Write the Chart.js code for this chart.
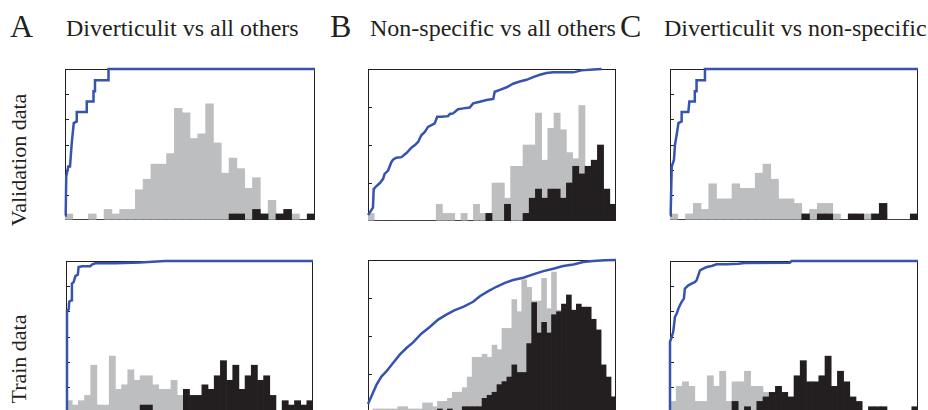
<!DOCTYPE html>
<html>
<head>
<meta charset="utf-8">
<script src="https://cdn.jsdelivr.net/npm/chart.js@4.4.1/dist/chart.umd.min.js"></script>
<style>
  html, body { margin: 0; padding: 0; background: #fff; overflow: hidden; }
  body { width: 928px; height: 410px; position: relative; font-family: "Liberation Serif", "Times New Roman", serif; color: #231f20; }
  .lbl { position: absolute; white-space: nowrap; line-height: 1; }
  .letter { font-size: 32px; }
  .title { font-size: 24px; }
  .ylab { font-size: 22px; width: 200px; text-align: center; transform: rotate(-90deg); }
  canvas { position: absolute; }
</style>
</head>
<body>
<div class="lbl letter" style="left:10px;top:10px">A</div>
<div class="lbl title" style="left:66px;top:16px">Diverticulit vs all others</div>
<div class="lbl letter" style="left:330px;top:10px">B</div>
<div class="lbl title" style="left:370px;top:16px">Non-specific vs all others</div>
<div class="lbl letter" style="left:620px;top:10px">C</div>
<div class="lbl title" style="left:664px;top:16px">Diverticulit vs non-specific</div>
<div class="lbl ylab" style="left:-81px;top:149px">Validation data</div>
<div class="lbl ylab" style="left:-81px;top:348px">Train data</div>
<script>
// histogram heights, % of panel height
const aValGray = [4,0,0,4,0,7,4,7,7,20,27,37,37,44,74,71,54,57,77,51,31,41,34,21,28,4,13,4,7,4,0,0];
const aValBlack = [0,0,0,0,0,0,0,0,0,0,0,0,0,0,0,0,0,0,0,0,0,4,4,0,7,4,0,4,7,0,0,4];
const bValGray = [5,0,0,0,0,0,0,0,0,0,0,11,5,5,0,5,0,11,5,5,25,25,15,36,36,50,50,71,40,61,71,60,45,41,76,36,40,21,15,11];
const bValBlack = [0,0,0,0,0,0,0,0,0,0,0,0,0,0,0,0,0,0,0,5,0,0,11,0,0,5,15,21,15,21,21,15,25,36,31,36,40,50,21,11];
const cValGray = [4,0,4,11,7,24,14,14,24,21,21,31,37,27,14,14,11,4,7,11,11,4,0,4,0,4,4,4,0,0,0,0];
const cValBlack = [0,0,0,0,0,0,0,0,0,0,0,0,0,0,0,0,0,4,0,4,4,0,0,4,4,0,4,11,0,0,0,4];

const aTrGray = [7.5,4.6,7.5,11,31,4.6,4.6,37,15,18,28,21,24,24,18,15,15,21,11,4.6,0,0,0,0,0,0,0,0,0,0,0,0,0,0,0,0,0,0,0,0];
const aTrBlack = [0,0,0,0,0,0,0,0,0,0,0,0,4.6,4.6,0,0,0,0,0,15,11,11,18,15,24,34,21,31,15,24,31,21,24,11,0,7.5,4.6,7.5,4.6,7.5];
const bTrGray = [0,2,2,2,2,2,3.5,3.5,2,2,2,6,6,3.5,7,7,9,13,13,16,23,36,36,38,36,44,41,55,55,74,66,87,82,73,73,88,68,92,67,40,30,25,20,15,10,8,5,3,2,0];
const bTrBlack = [0,0,0,0,0,0,0,0,0,0,0,0,0,0,2,0,2,0,0,3.5,3.5,3.5,3.5,9,11,13,18,20,23,31,26,26,45,72,52,59,52,64,66,71,77,67,71,69,69,61,54,31,23,10];
const cTrGray = [7,17,20,17,7,7,24,17,27,7,20,20,27,17,17,13,7,0,0,0,0,0,0,0,0,0,0,0,0,0,0,0,0,0,0,0,0,0,0,0];
const cTrBlack = [0,0,0,0,0,0,0,0,0,0,7,0,3.5,0,7,10,13,17,13,10,24,34,20,20,24,37,17,27,20,10,7,0,3.5,3.5,3.5,0,0,0,0,3.5];

// blue curves, [fraction x, fraction y]
const rocAVal = [[0,0.03],[0.003,0.066],[0.005,0.288],[0.013,0.354],[0.02,0.354],[0.027,0.509],[0.035,0.642],[0.047,0.653],[0.047,0.715],[0.087,0.715],[0.087,0.785],[0.114,0.785],[0.114,0.852],[0.12,0.852],[0.12,0.925],[0.174,0.925],[0.174,1],[1,1]];
const rocBVal = [[0,0.04],[0.007,0.055],[0.02,0.088],[0.023,0.21],[0.034,0.23],[0.047,0.248],[0.061,0.277],[0.067,0.31],[0.081,0.332],[0.094,0.387],[0.101,0.403],[0.114,0.416],[0.135,0.42],[0.155,0.447],[0.175,0.482],[0.188,0.498],[0.202,0.52],[0.215,0.564],[0.229,0.586],[0.242,0.619],[0.256,0.631],[0.269,0.642],[0.279,0.686],[0.296,0.686],[0.323,0.69],[0.33,0.704],[0.343,0.708],[0.363,0.735],[0.384,0.741],[0.41,0.746],[0.424,0.774],[0.451,0.785],[0.478,0.796],[0.505,0.803],[0.511,0.85],[0.532,0.863],[0.559,0.88],[0.585,0.903],[0.612,0.918],[0.639,0.929],[0.666,0.947],[0.693,0.962],[0.72,0.973],[0.747,0.978],[0.828,0.978],[0.861,0.991],[0.908,0.996],[0.942,1]];
const rocCVal = [[0,0.03],[0.003,0.066],[0.007,0.354],[0.016,0.398],[0.02,0.498],[0.027,0.564],[0.034,0.642],[0.047,0.653],[0.047,0.715],[0.074,0.715],[0.078,0.785],[0.1,0.785],[0.1,0.852],[0.107,0.852],[0.107,0.925],[0.141,0.925],[0.141,1],[1,1]];
const rocATr = [[0,0],[0.004,0.21],[0.004,0.67],[0.011,0.68],[0.013,0.73],[0.022,0.74],[0.024,0.85],[0.031,0.86],[0.038,0.9],[0.048,0.91],[0.051,0.96],[0.065,0.965],[0.098,0.965],[0.105,0.976],[0.118,0.985],[0.199,0.985],[0.3,0.99],[0.401,1],[1,1]];
const rocBTr = [[0,0.053],[0.013,0.101],[0.034,0.178],[0.054,0.233],[0.074,0.267],[0.101,0.322],[0.128,0.377],[0.155,0.421],[0.182,0.458],[0.215,0.515],[0.249,0.559],[0.283,0.608],[0.316,0.641],[0.35,0.67],[0.384,0.692],[0.424,0.725],[0.451,0.762],[0.485,0.795],[0.518,0.824],[0.552,0.85],[0.585,0.868],[0.626,0.883],[0.666,0.905],[0.707,0.927],[0.747,0.943],[0.787,0.96],[0.828,0.971],[0.868,0.987],[0.908,0.993],[0.956,0.998],[1,1]];
const rocCTr = [[0,0],[0,0.465],[0.007,0.498],[0.013,0.531],[0.02,0.63],[0.027,0.652],[0.034,0.685],[0.04,0.707],[0.047,0.729],[0.056,0.751],[0.06,0.817],[0.074,0.839],[0.087,0.85],[0.101,0.861],[0.107,0.872],[0.114,0.905],[0.121,0.938],[0.134,0.949],[0.148,0.96],[0.168,0.967],[0.188,0.978],[0.228,0.978],[0.275,0.982],[0.302,0.987],[0.483,0.989],[0.49,1],[1,1]];

const GRAY = '#bdbec0';
const BLACK = '#231f20';
const BLUE = '#3653ae';
const PAD = 3;

// frame around the plot and short inward ticks on the left axis
const frameTicks = {
  id: 'frameTicks',
  beforeDatasetsDraw(chart, args, opts) {
    const { ctx, chartArea: a, scales } = chart;
    ctx.save();
    ctx.strokeStyle = BLACK;
    ctx.lineWidth = 1;
    ctx.strokeRect(a.left + 0.5, a.top + 0.5, a.right - a.left - 1, a.bottom - a.top - 1);
    for (let k = 1; k < opts.divisions; k++) {
      const py = Math.round(scales.y.getPixelForValue(100 * k / opts.divisions)) + 0.5;
      ctx.beginPath();
      ctx.moveTo(a.left, py);
      ctx.lineTo(a.left + 4, py);
      ctx.stroke();
    }
    ctx.restore();
  }
};

function makePanel(rect, gray, black, roc, divisions) {
  const [l, t, r, b] = rect;
  const cv = document.createElement('canvas');
  cv.width = r - l + 2 * PAD;
  cv.height = b - t + 2 * PAD;
  cv.style.left = (l - PAD) + 'px';
  cv.style.top = (t - PAD) + 'px';
  cv.style.width = cv.width + 'px';
  cv.style.height = cv.height + 'px';
  document.body.appendChild(cv);

  new Chart(cv.getContext('2d'), {
    type: 'bar',
    data: {
      labels: gray.map((_, i) => i),
      datasets: [
        {
          type: 'line',
          data: roc.map(([x, y]) => ({ x, y })),
          xAxisID: 'x2',
          yAxisID: 'y2',
          borderColor: BLUE,
          borderWidth: 2.5,
          pointRadius: 0,
          tension: 0,
          clip: PAD,
          order: 0,
        },
        { data: black, backgroundColor: BLACK, order: 1, grouped: false, barPercentage: 1, categoryPercentage: 1 },
        { data: gray, backgroundColor: GRAY, order: 2, grouped: false, barPercentage: 1, categoryPercentage: 1 },
      ],
    },
    options: {
      responsive: false,
      animation: false,
      devicePixelRatio: 1,
      layout: { padding: PAD },
      plugins: { legend: { display: false }, tooltip: { enabled: false }, frameTicks: { divisions } },
      scales: {
        x: { type: 'category', display: false, offset: true },
        y: { display: false, min: 0, max: 100 },
        x2: { type: 'linear', display: false, min: 0, max: 1, offset: false, grid: { offset: false } },
        y2: { type: 'linear', display: false, min: 0, max: 1 },
      },
    },
    plugins: [frameTicks],
  });
}

makePanel([65, 69, 315, 220], aValGray, aValBlack, rocAVal, 6);
makePanel([368, 69, 616, 221], bValGray, bValBlack, rocBVal, 4);
makePanel([670, 69, 918, 220], cValGray, cValBlack, rocCVal, 6);
makePanel([66, 261, 313, 412], aTrGray, aTrBlack, rocATr, 6);
makePanel([368, 260, 616, 412], bTrGray, bTrBlack, rocBTr, 4);
makePanel([670, 261, 918, 412], cTrGray, cTrBlack, rocCTr, 6);
</script>
</body>
</html>
